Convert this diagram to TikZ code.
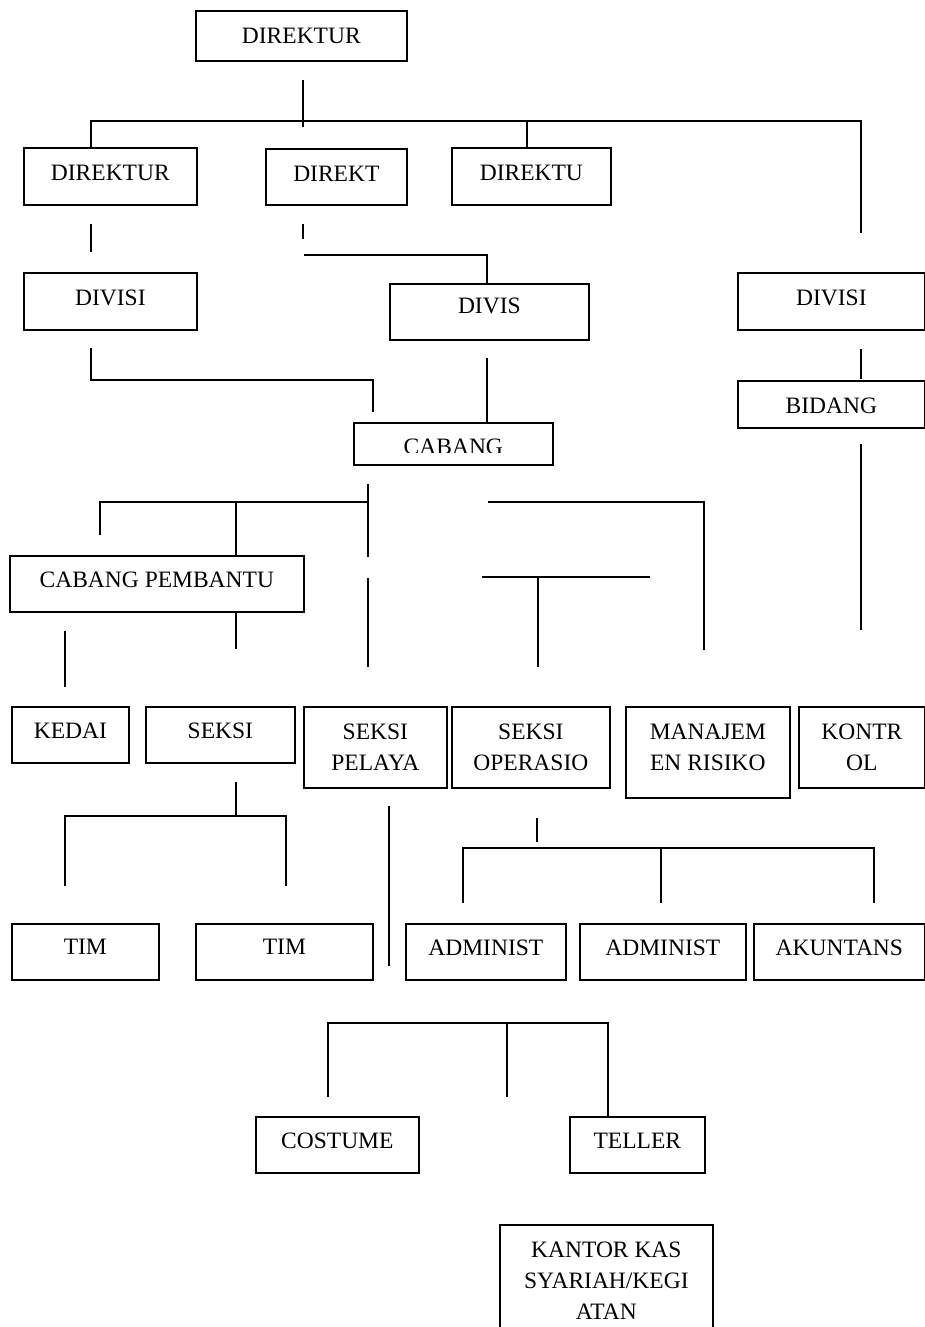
\documentclass[tikz,border=0pt]{standalone}
\usepackage{fontspec}
\setmainfont{Liberation Serif}
\tikzset{
  box/.style={draw, line width=1.7pt, inner sep=0pt, anchor=north west},
  txt/.style={font=\fontsize{23.5}{31}\selectfont, align=center, inner sep=0pt, anchor=north},
  ln/.style={line width=1.7pt}
}
\newcommand\obox[7]{%
  \node[box, minimum width={(#4-#2)*1pt}, minimum height={(#5-#3)*1pt}] (#1) at (#2,#3) {};
  \node[txt] (#1-t) at ([yshift=-#6pt]#1.north) {#7};}
\begin{document}
\begin{tikzpicture}[x=1pt,y=-1pt]
\clip (0,0) rectangle (925,1327);
\useasboundingbox (0,0) rectangle (925,1327);
% boxes
\obox{dir}{195}{10}{406}{60}{18}{DIREKTUR}
\obox{da}{23}{147}{196}{204}{18}{DIREKTUR}
\obox{db}{265}{148}{406}{204}{18}{DIREKT}
\obox{dc}{451}{147}{610}{204}{18}{DIREKTU}
\obox{va}{23}{272}{196}{329}{18}{DIVISI}
\obox{vb}{389}{283}{588}{339}{15}{DIVIS}
\obox{vc}{737}{272}{924}{329}{18}{DIVISI}
\obox{bid}{737}{380}{924}{427}{18}{BIDANG}
\node[box, minimum width=199pt, minimum height=42pt] (cab) at (353,422) {};
\begin{scope}
  \clip (353,422) rectangle (552,452.5);
  \node[txt] (cab-t) at ([yshift=-16.5pt]cab.north) {CABANG};
\end{scope}
\obox{cp}{9}{555}{303}{611}{17}{CABANG PEMBANTU}
\obox{kedai}{11}{706}{128}{762}{17}{KEDAI}
\obox{seksi}{145}{706}{294}{762}{17}{SEKSI}
\obox{pel}{303}{706}{446}{787}{18}{SEKSI\\PELAYA}
\obox{ops}{451}{706}{609}{787}{18}{SEKSI\\OPERASIO}
\obox{man}{625}{706}{789}{797}{18}{MANAJEM\\EN RISIKO}
\obox{kon}{798}{706}{924}{787}{18}{KONTR\\OL}
\obox{tima}{11}{923}{158}{979}{16}{TIM}
\obox{timb}{195}{923}{372}{979}{16}{TIM}
\obox{adma}{405}{923}{565}{979}{17}{ADMINIST}
\obox{admb}{579}{923}{745}{979}{17}{ADMINIST}
\obox{aku}{753}{923}{924}{979}{17}{AKUNTANS}
\obox{cos}{255}{1116}{418}{1172}{17}{COSTUME}
\obox{tel}{569}{1116}{704}{1172}{17}{TELLER}
\obox{kas}{499}{1224}{712}{1340}{18}{KANTOR KAS\\SYARIAH/KEGI\\ATAN}
% connectors
\draw[ln] (303,80) -- (303,127);
\draw[ln] (91,147) -- (91,121) -- (861,121) -- (861,233);
\draw[ln] (527,121) -- (527,147);
\draw[ln] (91,224) -- (91,252);
\draw[ln] (303,224) -- (303,239);
\draw[ln] (304,255) -- (487,255) -- (487,283);
\draw[ln] (91,348) -- (91,380) -- (373,380) -- (373,412);
\draw[ln] (487,358) -- (487,422);
\draw[ln] (861,349) -- (861,379);
\draw[ln] (861,444) -- (861,630);
\draw[ln] (368,484) -- (368,557);
\draw[ln] (100,535) -- (100,502) -- (368,502);
\draw[ln] (236,502) -- (236,555);
\draw[ln] (368,578) -- (368,667);
\draw[ln] (236,612) -- (236,649);
\draw[ln] (65,631) -- (65,687);
\draw[ln] (488,502) -- (704,502) -- (704,650);
\draw[ln] (482,577) -- (650,577);
\draw[ln] (538,577) -- (538,667);
\draw[ln] (236,782) -- (236,816);
\draw[ln] (65,886) -- (65,816) -- (286,816) -- (286,886);
\draw[ln] (389,806) -- (389,966);
\draw[ln] (537,818) -- (537,842);
\draw[ln] (463,903) -- (463,848) -- (874,848) -- (874,903);
\draw[ln] (661,848) -- (661,903);
\draw[ln] (328,1097) -- (328,1023) -- (608,1023) -- (608,1116);
\draw[ln] (507,1023) -- (507,1097);
\end{tikzpicture}
\end{document}
